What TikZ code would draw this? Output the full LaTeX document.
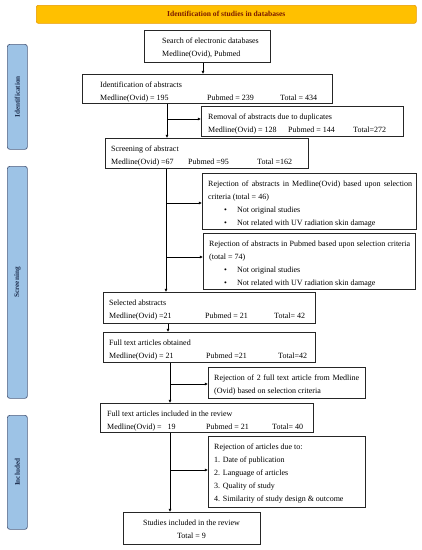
\documentclass[tikz,border=0pt]{standalone}
\usepackage{fontspec}
\setmainfont{Liberation Serif}
\usetikzlibrary{arrows.meta}
\definecolor{gold}{HTML}{FFC000}
\definecolor{goldline}{HTML}{E89A00}
\definecolor{titlered}{HTML}{7A1A00}
\definecolor{sideblue}{HTML}{9DC3E6}
\definecolor{sideline}{HTML}{4F5F7F}
\definecolor{sidetext}{HTML}{1F3050}
\tikzset{
  box/.style={draw=black!85, line width=0.7pt, inner sep=0pt},
  side/.style={draw=sideline, fill=sideblue, line width=0.7pt, rounded corners=2.5pt, inner sep=0pt},
  txt/.style={anchor=base west, inner sep=0pt, font=\fontsize{8}{9}\selectfont},
  ctxt/.style={anchor=base, inner sep=0pt, font=\fontsize{8}{9}\selectfont},
  sidelbl/.style={rotate=90, inner sep=0pt, text=sidetext, font=\fontsize{7.2}{8}\selectfont\bfseries},
  arr/.style={-{Latex[length=3.2pt,width=3pt]}, line width=0.5pt},
  ln/.style={line width=0.5pt}
}
\newcommand{\bx}[5]{\node[box, anchor=north west, minimum width=#4-#2, minimum height=#5-#3] (#1) at (#2,#3) {};}
\begin{document}
\begin{tikzpicture}[x=1pt,y=-1pt]
\useasboundingbox (0,0) rectangle (422,550);
% title
\node[draw=goldline, fill=gold, rounded corners=2pt, line width=0.6pt, anchor=north west, minimum width=380pt, minimum height=18pt, inner sep=0pt] (title) at (36,5) {};
\node[inner sep=0pt, text=titlered, font=\fontsize{7.6}{8}\selectfont\bfseries] (titletxt) at (title.center) {Identification of studies in databases};
% side boxes
\node[side, anchor=north west, minimum width=20pt, minimum height=105pt] (sid) at (7,44) {};
\node[sidelbl] (sidt) at (sid.center) {Identification};
\node[side, anchor=north west, minimum width=20pt, minimum height=232pt] (sscr) at (7,166) {};
\node[sidelbl] (sscrt) at (sscr.center) {Screening};
\node[side, anchor=north west, minimum width=20pt, minimum height=114pt] (sinc) at (7,415) {};
\node[sidelbl] (sinct) at (sinc.center) {Included};
% boxes
\bx{search}{144}{30}{270}{62}
\node[txt] (t1a) at (162,43) {Search of electronic databases};
\node[txt] (t1b) at (162,56) {Medline(Ovid), Pubmed};

\bx{ident}{82}{74}{332}{103}
\node[txt] (t2a) at (100,87) {Identification of abstracts};
\node[txt] (t2b) at (100,100) {Medline(Ovid) = 195};
\node[txt] (t2c) at (207,100) {Pubmed = 239};
\node[txt] (t2d) at (280,100) {Total = 434};

\bx{removal}{201}{106}{403}{136}
\node[txt] (t3a) at (208,119) {Removal of abstracts due to duplicates};
\node[txt] (t3b) at (208,132) {Medline(Ovid) = 128};
\node[txt] (t3c) at (288,132) {Pubmed = 144};
\node[txt] (t3d) at (353,132) {Total=272};

\bx{screen}{105}{138}{308}{168}
\node[txt] (t4a) at (111,151) {Screening of abstract};
\node[txt] (t4b) at (111,164) {Medline(Ovid) =67};
\node[txt] (t4c) at (188,164) {Pubmed =95};
\node[txt] (t4d) at (257,164) {Total =162};

\bx{rejA}{202}{173}{416}{229}
\node[txt] (t5a) at (208,186) {\makebox[204pt][s]{Rejection of abstracts in Medline(Ovid) based upon selection}};
\node[txt] (t5b) at (208,199) {criteria (total = 46)};
\node[txt] (t5c) at (224,212) {•};
\node[txt] (t5d) at (237,212) {Not original studies};
\node[txt] (t5e) at (224,225) {•};
\node[txt] (t5f) at (237,225) {Not related with UV radiation skin damage};

\bx{rejB}{203}{233}{415}{289}
\node[txt] (t6a) at (209,246) {\makebox[201pt][s]{Rejection of abstracts in Pubmed based upon selection criteria}};
\node[txt] (t6b) at (209,259) {(total = 74)};
\node[txt] (t6c) at (224,272) {•};
\node[txt] (t6d) at (237,272) {Not original studies};
\node[txt] (t6e) at (224,285) {•};
\node[txt] (t6f) at (237,285) {Not related with UV radiation skin damage};

\bx{selected}{103}{292}{315}{323}
\node[txt] (t7a) at (109,305) {Selected abstracts};
\node[txt] (t7b) at (109,318) {Medline(Ovid) =21};
\node[txt] (t7c) at (205,318) {Pubmed = 21};
\node[txt] (t7d) at (274,318) {Total= 42};

\bx{fulltext}{103}{332}{315}{362}
\node[txt] (t8a) at (109,345) {Full text articles obtained};
\node[txt] (t8b) at (109,358) {Medline(Ovid) = 21};
\node[txt] (t8c) at (206,358) {Pubmed =21};
\node[txt] (t8d) at (278,358) {Total=42};

\bx{rejC}{208}{367}{365}{398}
\node[txt] (t9a) at (214,380) {\makebox[145pt][s]{Rejection of 2 full text article from Medline}};
\node[txt] (t9b) at (214,393) {(Ovid) based on selection criteria};

\bx{incl}{100}{403}{313}{432}
\node[txt] (t10a) at (107,416) {Full text articles included in the review};
\node[txt] (t10b) at (107,429) {Medline(Ovid) =\hspace{6pt}19};
\node[txt] (t10c) at (206,429) {Pubmed = 21};
\node[txt] (t10d) at (272,429) {Total= 40};

\bx{rejD}{208}{436}{365}{507}
\node[txt] (t11a) at (214,449) {Rejection of articles due to:};
\node[txt] (t11b) at (214,462) {1. Date of publication};
\node[txt] (t11c) at (214,475) {2. Language of articles};
\node[txt] (t11d) at (214,488) {3. Quality of study};
\node[txt] (t11e) at (214,501) {4. Similarity of study design \& outcome};

\bx{final}{123}{512}{260}{544}
\node[ctxt] (t12a) at (191.5,525) {Studies included in the review};
\node[ctxt] (t12b) at (191.5,538) {Total = 9};

% connectors
\coordinate (c0) at (203,0);
\coordinate (c1) at (167,0);
\coordinate (c2) at (166,0);
\coordinate (c3) at (168,0);
\coordinate (c4) at (170,0);
\coordinate (yA) at (0,119);
\coordinate (yB) at (0,203);
\coordinate (yC) at (0,257);
\coordinate (yD) at (0,384);
\coordinate (yE) at (0,470);

\draw[arr] (search.south -| c0) -- (ident.north -| c0);
\draw[arr] (ident.south -| c1) -- (screen.north -| c1);
\draw[arr] (yA -| c1) -- (yA -| removal.west);
\draw[arr] (screen.south -| c2) -- (selected.north -| c2);
\draw[arr] (yB -| c2) -- (yB -| rejA.west);
\draw[arr] (yC -| c2) -- (yC -| rejB.west);
\draw[arr] (selected.south -| c3) -- (fulltext.north -| c3);
\draw[arr] (fulltext.south -| c4) -- (incl.north -| c4);
\draw[arr] (yD -| c4) -- (yD -| rejC.west);
\draw[arr] (incl.south -| c4) -- (final.north -| c4);
\draw[arr] (yE -| c4) -- (yE -| rejD.west);
\end{tikzpicture}
\end{document}
